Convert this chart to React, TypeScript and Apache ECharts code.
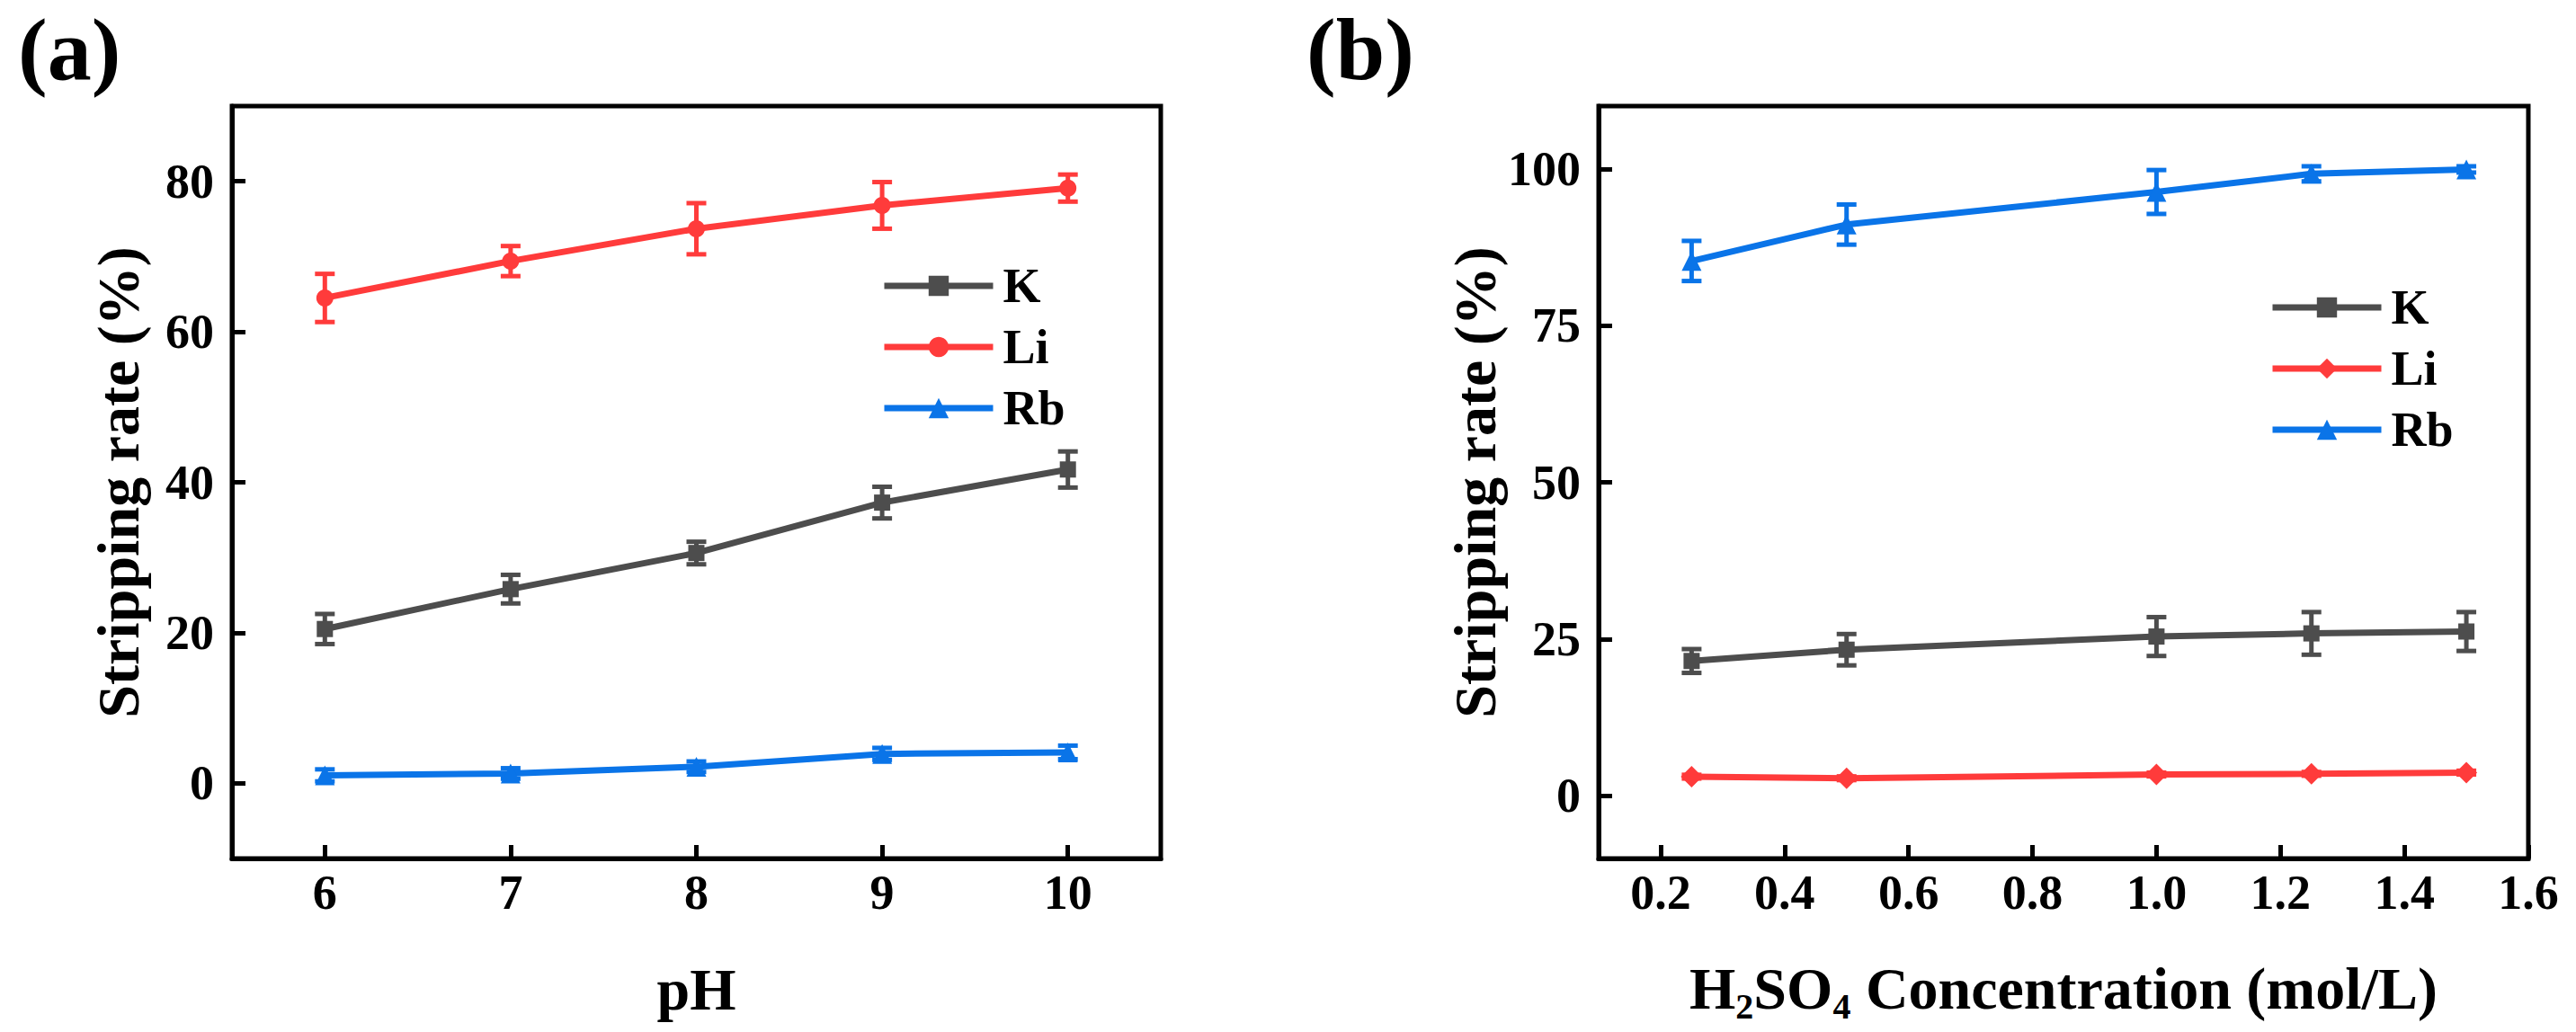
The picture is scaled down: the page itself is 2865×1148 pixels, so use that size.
import React, { useEffect, useRef } from "react";
import * as echarts from "echarts";

const PH = [6, 7, 8, 9, 10];
const K_A = [20.5, 25.8, 30.6, 37.3, 41.7];
const K_A_ERR = [2.0, 1.9, 1.5, 2.1, 2.4];
const LI_A = [64.5, 69.4, 73.7, 76.8, 79.1];
const LI_A_ERR = [3.2, 2.0, 3.4, 3.1, 1.8];
const RB_A = [1.05, 1.3, 2.2, 3.9, 4.1];
const RB_A_ERR = [0.8, 0.7, 0.7, 0.8, 0.9];

const CONC = [0.25, 0.5, 1.0, 1.25, 1.5];
const K_B = [21.5, 23.3, 25.4, 25.9, 26.2];
const K_B_ERR = [1.9, 2.5, 3.1, 3.4, 3.1];
const LI_B = [3.05, 2.8, 3.4, 3.5, 3.7];
const LI_B_ERR = [0.3, 0.3, 0.3, 0.3, 0.3];
const RB_B = [85.3, 91.1, 96.3, 99.2, 99.9];
const RB_B_ERR = [3.2, 3.2, 3.5, 1.2, 0.5];

const X_TICKS_A = [6, 7, 8, 9, 10];
const Y_TICKS_A = [0, 20, 40, 60, 80];
const X_TICKS_B = [0.2, 0.4, 0.6, 0.8, 1.0, 1.2, 1.4, 1.6];
const Y_TICKS_B = [0, 25, 50, 75, 100];

const GRAY = "#4d4d4d";
const RED = "#ff3b3b";
const BLUE = "#0a74e8";
const FONT = "Liberation Serif";

function pts(xs: number[], ys: number[]) {
  return xs.map((x, i) => [x, ys[i]]);
}
function errs(xs: number[], ys: number[], es: number[]) {
  return xs.map((x, i) => [x, ys[i] - es[i], ys[i] + es[i]]);
}

function errSeries(idx: number, data: number[][], color: string) {
  return {
    type: "custom",
    xAxisIndex: idx,
    yAxisIndex: idx,
    data,
    encode: { x: 0, y: [1, 2] },
    z: 3,
    renderItem: (params: any, api: any) => {
      const x = api.value(0);
      const lo = api.coord([x, api.value(1)]);
      const hi = api.coord([x, api.value(2)]);
      const w = 11;
      const st = { stroke: color, lineWidth: 5 };
      return {
        type: "group",
        children: [
          { type: "line", shape: { x1: lo[0], y1: lo[1], x2: hi[0], y2: hi[1] }, style: st },
          { type: "line", shape: { x1: lo[0] - w, y1: lo[1], x2: lo[0] + w, y2: lo[1] }, style: st },
          { type: "line", shape: { x1: hi[0] - w, y1: hi[1], x2: hi[0] + w, y2: hi[1] }, style: st },
        ],
      };
    },
  };
}

function lineSeries(idx: number, name: string, data: number[][], color: string, symbol: string, size: number) {
  return {
    type: "line",
    name,
    xAxisIndex: idx,
    yAxisIndex: idx,
    data,
    symbol,
    symbolSize: size,
    showSymbol: true,
    z: 4,
    itemStyle: { color },
    lineStyle: { color, width: 7 },
  };
}

const labelStyle = { fontFamily: FONT, fontWeight: "bold", fontSize: 54, color: "#000" };
const nameStyle = { fontFamily: FONT, fontWeight: "bold", fontSize: 66, color: "#000" };

function xAxis(idx: number, min: number, max: number, ticks: number[], name: any, fmt: (v: number) => string, gap: number, nameRich?: any) {
  return {
    type: "value",
    gridIndex: idx,
    min,
    max,
    name,
    nameLocation: "middle",
    nameGap: gap,
    nameTextStyle: nameRich ? { ...nameStyle, rich: nameRich } : nameStyle,
    splitLine: { show: false },
    axisLine: { show: true, onZero: false, lineStyle: { color: "#000", width: 5 } },
    axisTick: { show: true, inside: true, length: 15, customValues: ticks, lineStyle: { color: "#000", width: 5 } },
    axisLabel: { show: true, margin: 11, customValues: ticks, formatter: fmt, ...labelStyle },
  };
}

function yAxis(idx: number, min: number, max: number, ticks: number[]) {
  return {
    type: "value",
    gridIndex: idx,
    min,
    max,
    name: "Stripping rate (%)",
    nameLocation: "middle",
    nameGap: 94,
    nameRotate: 90,
    nameTextStyle: nameStyle,
    splitLine: { show: false },
    axisLine: { show: true, onZero: false, lineStyle: { color: "#000", width: 5 } },
    axisTick: { show: true, inside: true, length: 15, customValues: ticks, lineStyle: { color: "#000", width: 5 } },
    axisLabel: { show: true, margin: 20, customValues: ticks, formatter: (v: number) => String(v), ...labelStyle },
  };
}

function legend(names: string[], left: number, top: number) {
  return {
    data: names,
    orient: "vertical",
    left,
    top,
    itemWidth: 121,
    itemHeight: 28,
    itemGap: 14,
    lineStyle: { width: 7 },
    formatter: (n: string) => n.split("_")[0],
    textStyle: { fontFamily: FONT, fontWeight: "bold", fontSize: 54, color: "#000", padding: [0, 0, 0, 6] },
  };
}

export default function App() {
  const ref = useRef<HTMLDivElement>(null);
  useEffect(() => {
    document.body.style.margin = "0";
    const chart = echarts.init(ref.current!, undefined, { renderer: "svg" });
    const option: any = {
      animation: false,
      backgroundColor: "#fff",
      grid: [
        { left: 258, top: 118, width: 1033, height: 837, show: true, borderColor: "#000", borderWidth: 5, containLabel: false },
        { left: 1778, top: 118, width: 1034, height: 837, show: true, borderColor: "#000", borderWidth: 5, containLabel: false },
      ],
      xAxis: [
        xAxis(0, 5.5, 10.5, X_TICKS_A, "pH", (v: number) => String(v), 112),
        xAxis(1, 0.1, 1.6, X_TICKS_B, "{m|H}{s|2}{m|SO}{s|4}{m| Concentration (mol/L)}", (v: number) => v.toFixed(1), 104, {
          m: { fontFamily: FONT, fontWeight: "bold", fontSize: 66, lineHeight: 80, verticalAlign: "middle" },
          s: { fontFamily: FONT, fontWeight: "bold", fontSize: 40, lineHeight: 40, verticalAlign: "bottom" },
        }),
      ],
      yAxis: [yAxis(0, -10, 90, Y_TICKS_A), yAxis(1, -10, 110, Y_TICKS_B)],
      legend: [legend(["K_a", "Li_a", "Rb_a"], 975, 286), legend(["K_b", "Li_b", "Rb_b"], 2519, 310)],
      graphic: [
        { type: "text", left: 20, top: 6, style: { text: "(a)", fontFamily: FONT, fontWeight: "bold", fontSize: 98, fill: "#000" } },
        { type: "text", left: 1453, top: 6, style: { text: "(b)", fontFamily: FONT, fontWeight: "bold", fontSize: 98, fill: "#000" } },
      ],
      series: [
        errSeries(0, errs(PH, K_A, K_A_ERR), GRAY),
        errSeries(0, errs(PH, LI_A, LI_A_ERR), RED),
        errSeries(0, errs(PH, RB_A, RB_A_ERR), BLUE),
        lineSeries(0, "K_a", pts(PH, K_A), GRAY, "rect", 18),
        lineSeries(0, "Li_a", pts(PH, LI_A), RED, "circle", 19),
        lineSeries(0, "Rb_a", pts(PH, RB_A), BLUE, "triangle", 22),
        errSeries(1, errs(CONC, K_B, K_B_ERR), GRAY),
        errSeries(1, errs(CONC, LI_B, LI_B_ERR), RED),
        errSeries(1, errs(CONC, RB_B, RB_B_ERR), BLUE),
        lineSeries(1, "K_b", pts(CONC, K_B), GRAY, "rect", 18),
        lineSeries(1, "Li_b", pts(CONC, LI_B), RED, "diamond", 24),
        lineSeries(1, "Rb_b", pts(CONC, RB_B), BLUE, "triangle", 22),
      ],
    };
    chart.setOption(option);
    return () => chart.dispose();
  }, []);
  return <div ref={ref} style={{ position: "fixed", left: 0, top: 0, width: 2865, height: 1148 }} />;
}
